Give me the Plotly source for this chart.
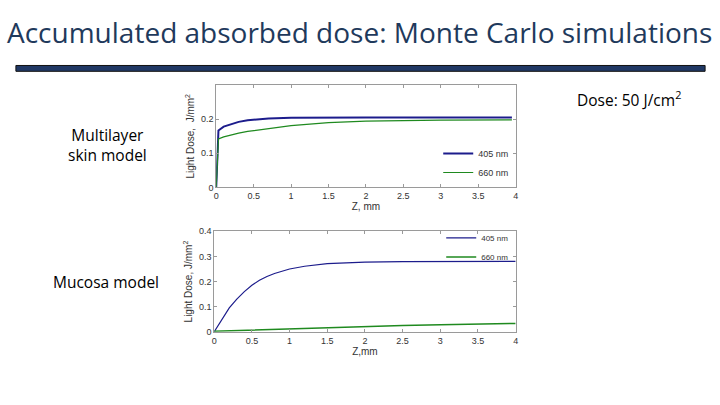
import plotly.graph_objects as go

# top panel: multilayer skin model
z_skin = [0, 0.03, 0.1, 0.2, 0.3, 0.42, 0.55, 0.7, 1.0, 1.5, 2.0, 3.0, 3.95]
skin_405 = [0, 0.167, 0.178, 0.186, 0.192, 0.197, 0.200, 0.202, 0.204, 0.205, 0.205, 0.205, 0.205]
skin_660 = [0, 0.142, 0.148, 0.154, 0.159, 0.164, 0.168, 0.172, 0.181, 0.190, 0.194, 0.197, 0.198]

# bottom panel: mucosa model
z_muc = [0, 0.1, 0.2, 0.3, 0.4, 0.5, 0.6, 0.7, 0.8, 1.0, 1.2, 1.5, 2.0, 2.5, 3.0, 3.5, 4.0]
muc_405 = [0, 0.05, 0.095, 0.13, 0.16, 0.185, 0.205, 0.22, 0.232, 0.25, 0.261, 0.271, 0.277, 0.279, 0.28, 0.28, 0.28]
muc_660 = [0.002, 0.003, 0.004, 0.005, 0.006, 0.007, 0.008, 0.009, 0.010, 0.012, 0.014, 0.017, 0.021, 0.025, 0.028, 0.031, 0.033]

x_ticks = [0, 0.5, 1, 1.5, 2, 2.5, 3, 3.5, 4]
x_labels = ['0', '0.5', '1', '1.5', '2', '2.5', '3', '3.5', '4']

BLUE = '#1c1c8c'
GREEN = '#1f8a1f'
AX = '#9a9a9a'
TXT = '#333333'

fig = go.Figure()
fig.add_trace(go.Scatter(x=z_skin, y=skin_405, mode='lines', name='405 nm',
                         line=dict(color=BLUE, width=2), xaxis='x', yaxis='y', legend='legend'))
fig.add_trace(go.Scatter(x=z_skin, y=skin_660, mode='lines', name='660 nm',
                         line=dict(color=GREEN, width=1.2), xaxis='x', yaxis='y', legend='legend'))
fig.add_trace(go.Scatter(x=z_muc, y=muc_405, mode='lines', name='405 nm',
                         line=dict(color=BLUE, width=1.2), xaxis='x2', yaxis='y2', legend='legend2'))
fig.add_trace(go.Scatter(x=z_muc, y=muc_660, mode='lines', name='660 nm',
                         line=dict(color=GREEN, width=1.5), xaxis='x2', yaxis='y2', legend='legend2'))

axis_common = dict(showgrid=False, zeroline=False, showline=True, linecolor=AX, linewidth=1,
                   mirror='ticks', ticks='inside', ticklen=3, tickcolor=AX,
                   tickfont=dict(family='Liberation Sans', size=9, color=TXT))
title_font = dict(family='Liberation Sans', size=10, color=TXT)

fig.update_layout(
    width=720, height=405,
    margin=dict(l=0, r=0, t=0, b=0),
    paper_bgcolor='white', plot_bgcolor='white',
    showlegend=True,
    xaxis=dict(domain=[0.2986, 0.718], range=[0, 4], tickvals=x_ticks, ticktext=x_labels,
               anchor='y', title=dict(text='Z, mm', font=title_font, standoff=1), **axis_common),
    yaxis=dict(domain=[0.538, 0.7975], range=[0, 0.3], tickvals=[0, 0.1, 0.2],
               ticktext=['0', '0.1', '0.2'], anchor='x',
               title=dict(text='Light Dose,  J/mm<sup>2</sup>', font=title_font, standoff=4),
               **axis_common),
    xaxis2=dict(domain=[0.2958, 0.718], range=[0, 4], tickvals=x_ticks, ticktext=x_labels,
                anchor='y2', title=dict(text='Z,mm', font=title_font, standoff=0), **axis_common),
    yaxis2=dict(domain=[0.1728, 0.427], range=[0, 0.4], tickvals=[0, 0.1, 0.2, 0.3, 0.4],
                ticktext=['0', '0.1', '0.2', '0.3', '0.4'], anchor='x2',
                title=dict(text='Light Dose, J/mm<sup>2</sup>', font=title_font, standoff=4),
                **axis_common),
    legend=dict(x=0.716, y=0.60, xanchor='right', yanchor='middle', bgcolor='rgba(0,0,0,0)',
                font=dict(family='Liberation Sans', size=9, color=TXT), itemwidth=30,
                tracegroupgap=0),
    legend2=dict(x=0.716, y=0.447, xanchor='right', yanchor='top', bgcolor='rgba(0,0,0,0)',
                 font=dict(family='Liberation Sans', size=8, color=TXT), itemwidth=30,
                 tracegroupgap=0),
)

# slide decorations
fig.add_annotation(text='Accumulated absorbed dose: Monte Carlo simulations', xref='paper', yref='paper',
                   x=359 / 720, y=1 - 28 / 405, xanchor='center', yanchor='middle', showarrow=False,
                   font=dict(family='Open Sans', size=28, color='#1f3a5c'))
fig.add_shape(type='rect', xref='paper', yref='paper', x0=13 / 720, x1=708 / 720,
              y0=1 - 68 / 405, y1=1 - 62 / 405, fillcolor='#203864', line=dict(color='#111111', width=1))
fig.add_annotation(text='Dose: 50 J/cm<sup>2</sup>', xref='paper', yref='paper',
                   x=686 / 720, y=1 - 96 / 405, xanchor='right', yanchor='middle', showarrow=False,
                   font=dict(family='Open Sans', size=15.5, color='black'))
fig.add_annotation(text='Multilayer<br>skin model', xref='paper', yref='paper',
                   x=105 / 720, y=1 - 144 / 405, xanchor='center', yanchor='middle', showarrow=False,
                   font=dict(family='Open Sans', size=15.5, color='black'))
fig.add_annotation(text='Mucosa model', xref='paper', yref='paper',
                   x=104 / 720, y=1 - 284 / 405, xanchor='center', yanchor='middle', showarrow=False,
                   font=dict(family='Open Sans', size=15.5, color='black'))

fig.write_html('out.html', config={'displayModeBar': False},
               post_script="document.body.style.margin='0';")
